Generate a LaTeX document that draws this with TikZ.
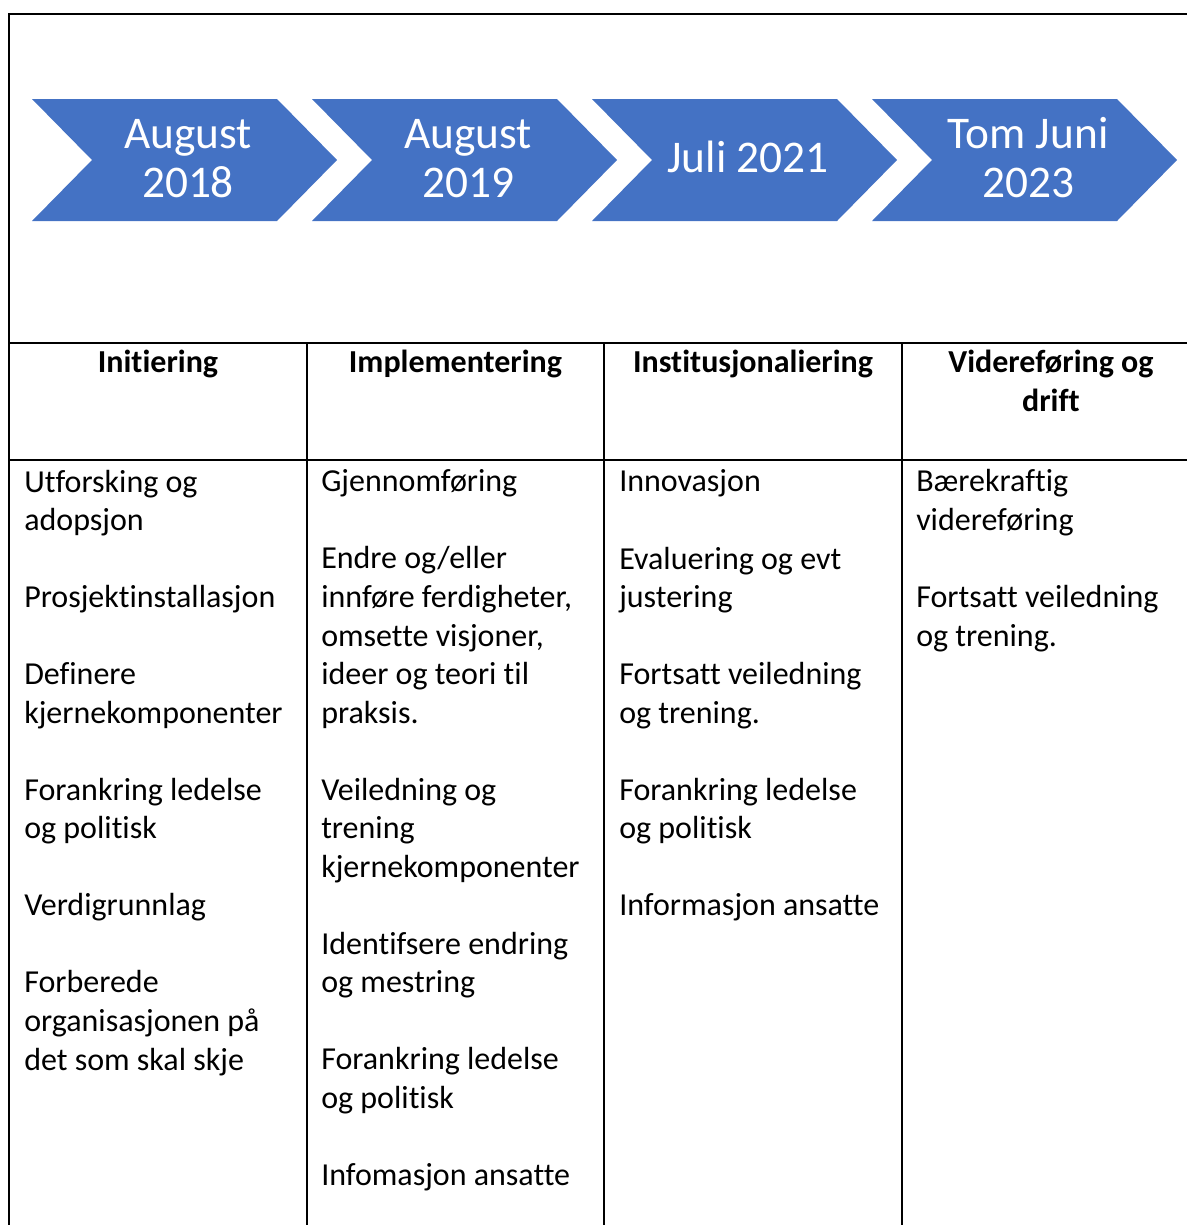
\documentclass[tikz,border=0pt]{standalone}
\usepackage{fontspec}
\setmainfont{Carlito}[Ligatures={NoCommon,NoContextual},Contextuals=NoAlternate]
\definecolor{chevblue}{HTML}{4472C4}

\tikzset{
  rule/.style={line width=1.6pt},
  chev/.style={fill=chevblue},
  date/.style={anchor=base, text=white, align=center, inner sep=0pt,
    font=\fontsize{34}{36.75}\selectfont},
  phase/.style={anchor=base, align=center, inner sep=0pt,
    font=\bfseries\fontsize{24}{29.25}\selectfont},
  cell/.style={anchor=base west, align=left, inner sep=0pt,
    font=\fontsize{24}{28.9}\selectfont},
}

\begin{document}
\begin{tikzpicture}[x=0.75pt, y=-0.75pt]
        \useasboundingbox (0,0) rectangle (1187,1225);
        \clip (0,0) rectangle (1187,1225);
        % frame and table rules
        \draw[rule] (1210,14) -- (9,14) -- (9,1240);
        \draw[rule] (9,343) -- (1210,343);
        \draw[rule] (9,460) -- (1210,460);
        \foreach \x in {307,604,902}
          \draw[rule] (\x,343) -- (\x,1240);
        % chevrons
        \foreach \x in {32,312,592,872}
          \fill[chev] (\x,99) -- (\x+245,99) -- (\x+305,160) -- (\x+245,221)
            -- (\x,221) -- (\x+60,160) -- cycle;
        % multi-line nodes sit on the baseline of their last line
        \node[date] (aug18) at (188,197) {August\\2018};
        \node[date] (aug19) at (468,197) {August\\2019};
        \node[date] (jul21) at (748,172) {Juli 2021};
        \node[date] (jun23) at (1028,197) {Tom Juni\\2023};
        % phases
        \node[phase] (init) at (158,372) {Initiering};
        \node[phase] (impl) at (455.5,372) {Implementering};
        \node[phase] (inst) at (753,372) {Institusjonaliering};
        \node[phase] (drift) at (1051,411) {Videreføring og\\drift};
        % activities, first line at y=492, 38.53 per line
        \node[cell] (initlist) at (24,1070) {Utforsking og\\adopsjon\\[\baselineskip]
          Prosjektinstallasjon\\[\baselineskip]
          Definere\\kjernekomponenter\\[\baselineskip]
          Forankring ledelse\\og politisk\\[\baselineskip]
          Verdigrunnlag\\[\baselineskip]
          Forberede\\organisasjonen på\\det som skal skje};
        \node[cell] (impllist) at (321,1185.5) {Gjennomføring\\[\baselineskip]
          Endre og/eller\\innføre ferdigheter,\\omsette visjoner,\\ideer og teori til\\praksis.\\[\baselineskip]
          Veiledning og\\trening\\kjernekomponenter\\[\baselineskip]
          Identifsere endring\\og mestring\\[\baselineskip]
          Forankring ledelse\\og politisk\\[\baselineskip]
          Infomasjon ansatte};
        \node[cell] (instlist) at (619,915.8) {Innovasjon\\[\baselineskip]
          Evaluering og evt\\justering\\[\baselineskip]
          Fortsatt veiledning\\og trening.\\[\baselineskip]
          Forankring ledelse\\og politisk\\[\baselineskip]
          Informasjon ansatte};
        \node[cell] (driftlist) at (916,646) {Bærekraftig\\videreføring\\[\baselineskip]
          Fortsatt veiledning\\og trening.};
\end{tikzpicture}
\end{document}
